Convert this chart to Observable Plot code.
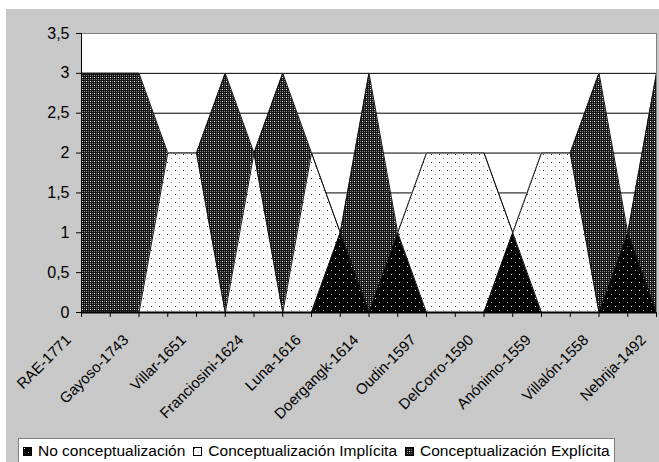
<!DOCTYPE html>
<html>
<head>
<meta charset="utf-8">
<script src="https://cdn.jsdelivr.net/npm/d3@7"></script>
<script src="https://cdn.jsdelivr.net/npm/@observablehq/plot@0.6"></script>
<style>
  body { margin: 0; background: #fff; font-family: "Liberation Sans", Arial, sans-serif; }
  #wrap { position: absolute; left: 6px; top: 9px; width: 653px; height: 453px; background: #c8c8c8; overflow: hidden; }
  #chart { position: absolute; left: 0; top: 0; }
  #legend { position: absolute; left: 12px; top: 429px; width: 597px; height: 40px; background: #fff; border: 1px solid #808080;
            font-size: 15.5px; color: #000; display: flex; align-items: flex-start; padding: 3px 0 0 4px; box-sizing: border-box; white-space: nowrap; }
  .item { display: flex; align-items: center; margin-right: 8px; }
  .item svg { margin-right: 6px; }
</style>
</head>
<body>
<div id="wrap">
  <div id="chart"></div>
  <div id="legend"></div>
</div>
<script>
// Categories (labelled every second position on the axis, as in the reference)
const labels = ["RAE-1771", "Gayoso-1743", "Villar-1651", "Franciosini-1624", "Luna-1616", "Doergangk-1614",
                "Oudin-1597", "DelCorro-1590", "Anónimo-1559", "Villalón-1558", "Nebrija-1492"];
const points = [0, 1, 2, 3, 4, 5, 6, 7, 8, 9, 10, 11, 12, 13, 14, 15, 16, 17, 18, 19, 20];
const labelPoints = [0, 2, 4, 6, 8, 10, 12, 14, 16, 18, 20];

// Series values
const noConcept = [0, 0, 0, 0, 0, 0, 0, 0, 0, 1, 0, 1, 0, 0, 0, 1, 0, 0, 0, 1, 0];
const implicita = [0, 0, 0, 2, 2, 0, 2, 0, 2, 1, 0, 1, 2, 2, 2, 1, 2, 2, 0, 1, 0];
const explicita = [3, 3, 3, 2, 2, 3, 2, 3, 2, 1, 3, 1, 2, 2, 2, 1, 2, 2, 3, 1, 3];

const seriesNames = ["No conceptualización", "Conceptualización Implícita", "Conceptualización Explícita"];
const yTicks = [0, 0.5, 1, 1.5, 2, 2.5, 3, 3.5];
const gridValues = [0.5, 1, 1.5, 2, 2.5, 3];

const table = points.map(i => ({i, no: noConcept[i], imp: implicita[i], exp: explicita[i]}));
const fmt = d => String(d).replace(".", ",");

const chart = Plot.plot({
  width: 653,
  height: 420,
  marginLeft: 75,
  marginRight: 3,
  marginTop: 24,
  marginBottom: 117,
  style: {background: "transparent", fontFamily: "'Liberation Sans', Arial, sans-serif", fontSize: "16px", color: "#000", overflow: "visible"},
  x: {type: "linear", domain: [0, 20]},
  y: {domain: [0, 3.5]},
  marks: [
    Plot.frame({fill: "#fff", stroke: null}),
    Plot.ruleY(gridValues, {stroke: "#000", strokeWidth: 1}),
    Plot.areaY(table, {x: "i", y: "exp", fill: "url(#pE)"}),
    Plot.lineY(table, {x: "i", y: "exp", stroke: "#111", strokeWidth: 1}),
    Plot.areaY(table, {x: "i", y: "imp", fill: "url(#pI)"}),
    Plot.lineY(table, {x: "i", y: "imp", stroke: "#111", strokeWidth: 1}),
    Plot.areaY(table, {x: "i", y: "no", fill: "url(#pN)"}),
    Plot.lineY(table, {x: "i", y: "no", stroke: "#111", strokeWidth: 1}),
    Plot.frame({stroke: "#808080", fill: null}),
    Plot.axisY({ticks: yTicks, tickFormat: fmt, tickSize: 5, tickPadding: 7, label: null, fontSize: 16,
                stroke: "#000", strokeOpacity: 1}),
    // tick marks only
    Plot.axisX({ticks: points, tickFormat: null, text: null, tickSize: 5, label: null, stroke: "#000", strokeOpacity: 1}),
    // rotated labels only
    Plot.axisX({ticks: labelPoints, tickFormat: i => labels[i / 2], tickSize: 0, tickPadding: 3,
                tickRotate: -45, dx: -13, dy: 22, label: null, fontSize: 15}),
    Plot.ruleX([0], {stroke: "#000", strokeWidth: 1}),
    Plot.ruleY([0], {stroke: "#000", strokeWidth: 2})
  ]
});

// Fill patterns (Excel-like dotted textures)
const defs = d3.select(chart).insert("defs", ":first-child");
const pE = defs.append("pattern").attr("id", "pE").attr("patternUnits", "userSpaceOnUse").attr("width", 4).attr("height", 4);
pE.append("rect").attr("width", 4).attr("height", 4).attr("fill", "#151515");
pE.append("rect").attr("x", 0).attr("y", 0).attr("width", 1).attr("height", 1).attr("fill", "#ffffff");
pE.append("rect").attr("x", 2).attr("y", 0).attr("width", 1).attr("height", 1).attr("fill", "#808080");
pE.append("rect").attr("x", 0).attr("y", 2).attr("width", 1).attr("height", 1).attr("fill", "#808080");
pE.append("rect").attr("x", 2).attr("y", 2).attr("width", 1).attr("height", 1).attr("fill", "#808080");

const pI = defs.append("pattern").attr("id", "pI").attr("patternUnits", "userSpaceOnUse").attr("width", 8).attr("height", 8);
pI.append("rect").attr("width", 8).attr("height", 8).attr("fill", "#ffffff");
pI.append("rect").attr("x", 1).attr("y", 1).attr("width", 1).attr("height", 1).attr("fill", "#333");
pI.append("rect").attr("x", 5).attr("y", 5).attr("width", 1).attr("height", 1).attr("fill", "#999");

const pN = defs.append("pattern").attr("id", "pN").attr("patternUnits", "userSpaceOnUse").attr("width", 8).attr("height", 8);
pN.append("rect").attr("width", 8).attr("height", 8).attr("fill", "#000");
pN.append("rect").attr("x", 1).attr("y", 1).attr("width", 1).attr("height", 1).attr("fill", "#fff");
pN.append("rect").attr("x", 5).attr("y", 5).attr("width", 1).attr("height", 1).attr("fill", "#999");

document.getElementById("chart").appendChild(chart);

// Legend
const legend = d3.select("#legend");
const legendFills = ["url(#pN)", "url(#pI)", "url(#pE)"];
seriesNames.forEach((name, k) => {
  const item = legend.append("div").attr("class", "item");
  const s = item.append("svg").attr("width", 9).attr("height", 9);
  s.append("rect").attr("x", 0.5).attr("y", 0.5).attr("width", 8).attr("height", 8)
    .attr("fill", legendFills[k]).attr("stroke", "#000");
  item.append("span").text(name);
});
</script>
</body>
</html>
